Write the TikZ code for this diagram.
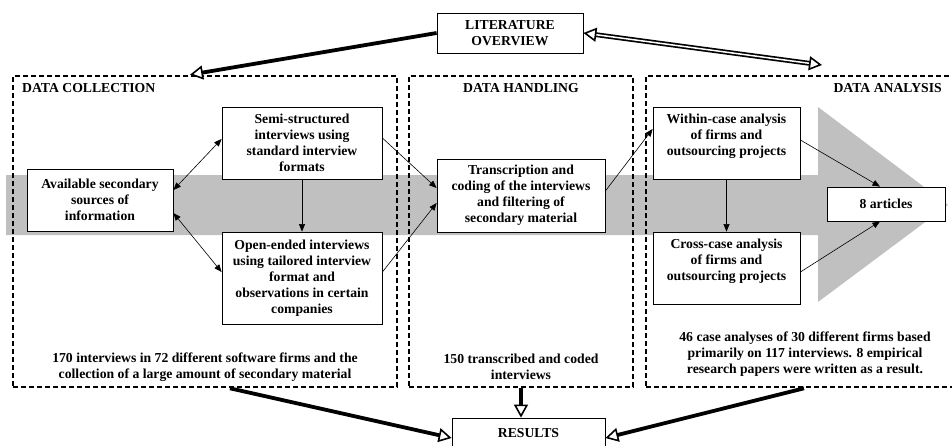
\documentclass[tikz,border=0pt]{standalone}
\usepackage{fontspec}
\setmainfont{Liberation Serif}
\usetikzlibrary{arrows.meta,calc}
\definecolor{bandgray}{RGB}{192,192,192}
\tikzset{
  bigtip/.tip={Triangle[length=13pt,width=14pt,fill=white,line width=1.6pt]},
  smalltip/.tip={Triangle[length=7.5pt,width=6pt]},
}
\begin{document}
\begin{tikzpicture}[x=1pt,y=-1pt,
  txt/.style={font=\bfseries\fontsize{13.7pt}{16pt}\selectfont, align=center, inner sep=0pt},
  box/.style={txt, draw, line width=0.8pt, fill=white},
  frame/.style={draw, line width=2.6pt, dash pattern=on 5pt off 3pt, inner sep=0pt},
  link/.style={line width=0.6pt, -{smalltip}},
  twolink/.style={line width=0.6pt, {smalltip}-{smalltip}},
  biglink/.style={line width=3.8pt, -{bigtip}},
]
\clip (0,0) rectangle (952,445);
\fill[white] (0,0) rectangle (952,445);

% grey process arrow behind everything
\fill[bandgray] (6,175) -- (818,175) -- (818,107) -- (948,205) -- (818,302) -- (818,235) -- (6,235) -- cycle;

% dashed phase frames
\node[frame, minimum width=384pt, minimum height=311pt] (coll) at (205,231.5) {};
\node[frame, minimum width=224pt, minimum height=311pt] (hand) at (521,231.5) {};
\node[frame, minimum width=316pt, minimum height=311pt] (ana) at (804,231.5) {};

% frame headings
\node[txt, anchor=base west] (hcoll) at (22,92.5) {DATA COLLECTION};
\node[txt, anchor=base] (hhand) at (521,92.5) {DATA HANDLING};
\node[txt, anchor=base east] (hana) at (942,92.5) {DATA ANALYSIS};

% boxes
\node[box, minimum width=146pt, minimum height=40pt] (lit) at (510,33) {LITERATURE\\OVERVIEW};
\node[box, minimum width=146pt, minimum height=62pt] (avail) at (100,200) {Available secondary\\sources of\\information};
\node[box, minimum width=160pt, minimum height=72pt] (semi) at (302,143) {Semi-structured\\interviews using\\standard interview\\formats};
\node[box, minimum width=160pt, minimum height=92pt] (open) at (302,278) {Open-ended interviews\\using tailored interview\\format and\\observations in certain\\companies};
\node[box, minimum width=168pt, minimum height=73pt] (trans) at (521,195.5) {Transcription and\\coding of the interviews\\and filtering of\\secondary material};
\node[box, minimum width=147pt, minimum height=72pt] (within) at (726.5,143) {};
\node[txt] (withintxt) at (726.5,136) {Within-case analysis\\of firms and\\outsourcing projects};
\node[box, minimum width=147pt, minimum height=72pt] (cross) at (726.5,268) {};
\node[txt] (crosstxt) at (726.5,261) {Cross-case analysis\\of firms and\\outsourcing projects};
\node[box, minimum width=118pt, minimum height=34pt] (art) at (886,204) {8 articles};
\node[box, minimum width=153pt, minimum height=30pt] (res) at (528.5,433) {RESULTS};

% summary notes
\node[txt] (ncoll) at (205,367) {170 interviews in 72 different software firms and the\\collection of a large amount of secondary material};
\node[txt] (nhand) at (521,367) {150 transcribed and coded\\interviews};
\node[txt] (nana) at (805,354) {46 case analyses of 30 different firms based\\primarily on 117 interviews. 8 empirical\\research papers were written as a result.};

% thin connectors
\draw[twolink] ([yshift=10pt]avail.east) -- ([yshift=4pt]semi.west);
\draw[twolink] ([yshift=-13pt]avail.east) -- ([yshift=6pt]open.west);
\draw[link] (semi.south) -- (open.north);
\draw[link] ([yshift=5pt]semi.east) -- ([yshift=7.5pt]trans.west);
\draw[link] ([yshift=6pt]open.east) -- ([yshift=-7.5pt]trans.west);
\draw[link] ([yshift=4.5pt]trans.east) -- ([yshift=14pt]within.west);
\draw[link] (within.south) -- (cross.north);
\draw[link] ([yshift=3pt]within.east) -- ([xshift=-6pt]art.north);
\draw[link] ([yshift=-4pt]cross.east) -- ([xshift=-6pt]art.south);

% heavy connectors
\coordinate (litend) at (822,65);
\draw[biglink] (lit.west) -- ($(coll.north)+(-15,0)$);
\draw[line width=1.7pt, double=white, double distance=1.5pt, {bigtip}-{bigtip}]
  (lit.east) -- (litend);
\draw[biglink] ($(coll.south)+(25,0)$) -- ([yshift=-5pt]res.west);
\draw[biglink] (hand.south) -- (hand.south |- res.north);
\draw[biglink] (ana.south) -- ([yshift=-5pt]res.east);
\end{tikzpicture}
\end{document}
